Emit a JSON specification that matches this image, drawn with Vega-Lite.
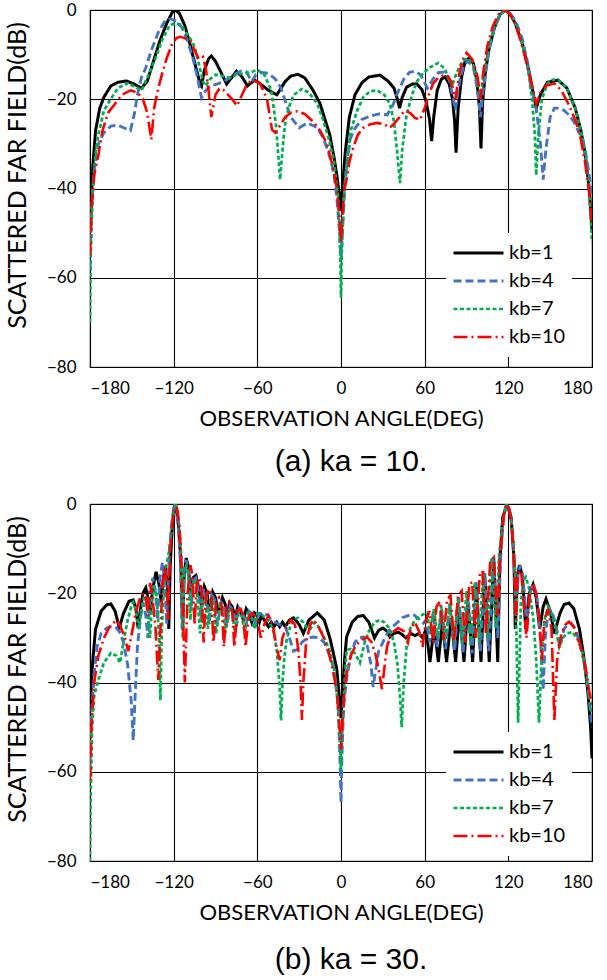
{
"$schema":"https://vega.github.io/schema/vega-lite/v6.json",
"background":"white",
"padding":{"left":4,"top":0,"right":0,"bottom":0},
"datasets":{
"a":[
{"k":"kb=1","x":-180,"y":-49},{"k":"kb=1","x":-178,"y":-35},{"k":"kb=1","x":-176,"y":-27},{"k":"kb=1","x":-173,"y":-22},{"k":"kb=1","x":-170,"y":-19.5},{"k":"kb=1","x":-165,"y":-17},{"k":"kb=1","x":-160,"y":-16.2},{"k":"kb=1","x":-154,"y":-15.9},{"k":"kb=1","x":-149,"y":-16.5},{"k":"kb=1","x":-143,"y":-17.5},{"k":"kb=1","x":-139,"y":-16},{"k":"kb=1","x":-135,"y":-12},{"k":"kb=1","x":-130,"y":-7},{"k":"kb=1","x":-125,"y":-3},{"k":"kb=1","x":-121,"y":-0.5},{"k":"kb=1","x":-119,"y":0},{"k":"kb=1","x":-116,"y":-0.7},{"k":"kb=1","x":-112,"y":-3.5},{"k":"kb=1","x":-108,"y":-8},{"k":"kb=1","x":-104,"y":-13},{"k":"kb=1","x":-101,"y":-16.5},{"k":"kb=1","x":-100,"y":-17},{"k":"kb=1","x":-98,"y":-13.5},{"k":"kb=1","x":-95,"y":-11},{"k":"kb=1","x":-93,"y":-10.3},{"k":"kb=1","x":-90,"y":-11.5},{"k":"kb=1","x":-86,"y":-14},{"k":"kb=1","x":-82,"y":-16.6},{"k":"kb=1","x":-78,"y":-15},{"k":"kb=1","x":-75,"y":-13.7},{"k":"kb=1","x":-71,"y":-15},{"k":"kb=1","x":-67,"y":-17},{"k":"kb=1","x":-62,"y":-15.7},{"k":"kb=1","x":-58,"y":-16.5},{"k":"kb=1","x":-52,"y":-18},{"k":"kb=1","x":-46,"y":-19},{"k":"kb=1","x":-40,"y":-16},{"k":"kb=1","x":-36,"y":-14.8},{"k":"kb=1","x":-31,"y":-14.4},{"k":"kb=1","x":-26,"y":-15.2},{"k":"kb=1","x":-20,"y":-18},{"k":"kb=1","x":-15,"y":-21},{"k":"kb=1","x":-12,"y":-24},{"k":"kb=1","x":-8,"y":-28},{"k":"kb=1","x":-5,"y":-33},{"k":"kb=1","x":-3,"y":-37},{"k":"kb=1","x":-1,"y":-42},{"k":"kb=1","x":0,"y":-45},{"k":"kb=1","x":1,"y":-40},{"k":"kb=1","x":3,"y":-32},{"k":"kb=1","x":6,"y":-24},{"k":"kb=1","x":10,"y":-19},{"k":"kb=1","x":15,"y":-16.3},{"k":"kb=1","x":20,"y":-15},{"k":"kb=1","x":28,"y":-14.6},{"k":"kb=1","x":34,"y":-16},{"k":"kb=1","x":38,"y":-17.5},{"k":"kb=1","x":40.5,"y":-20},{"k":"kb=1","x":42,"y":-22},{"k":"kb=1","x":44,"y":-19.5},{"k":"kb=1","x":47,"y":-17.3},{"k":"kb=1","x":51,"y":-16.6},{"k":"kb=1","x":54.5,"y":-16.6},{"k":"kb=1","x":58,"y":-17.8},{"k":"kb=1","x":61,"y":-20.5},{"k":"kb=1","x":63.5,"y":-24.5},{"k":"kb=1","x":65,"y":-29.4},{"k":"kb=1","x":66.5,"y":-24},{"k":"kb=1","x":69,"y":-18},{"k":"kb=1","x":72,"y":-15.5},{"k":"kb=1","x":74.6,"y":-15},{"k":"kb=1","x":77.5,"y":-16.5},{"k":"kb=1","x":80,"y":-20},{"k":"kb=1","x":81.5,"y":-25},{"k":"kb=1","x":82.5,"y":-32},{"k":"kb=1","x":84,"y":-22},{"k":"kb=1","x":86.5,"y":-15},{"k":"kb=1","x":89,"y":-11.5},{"k":"kb=1","x":92,"y":-10.8},{"k":"kb=1","x":95,"y":-12},{"k":"kb=1","x":97.5,"y":-16},{"k":"kb=1","x":99.3,"y":-22},{"k":"kb=1","x":100.4,"y":-31},{"k":"kb=1","x":101.5,"y":-21},{"k":"kb=1","x":103.5,"y":-14},{"k":"kb=1","x":106,"y":-9},{"k":"kb=1","x":110,"y":-4},{"k":"kb=1","x":114,"y":-1},{"k":"kb=1","x":117.6,"y":0},{"k":"kb=1","x":121,"y":-0.8},{"k":"kb=1","x":125,"y":-3},{"k":"kb=1","x":130,"y":-7.5},{"k":"kb=1","x":135,"y":-14},{"k":"kb=1","x":138,"y":-19},{"k":"kb=1","x":140,"y":-22},{"k":"kb=1","x":143,"y":-19},{"k":"kb=1","x":148,"y":-16.2},{"k":"kb=1","x":155.6,"y":-15.7},{"k":"kb=1","x":162,"y":-17.5},{"k":"kb=1","x":168,"y":-22},{"k":"kb=1","x":172,"y":-27},{"k":"kb=1","x":175,"y":-32},{"k":"kb=1","x":178,"y":-40},{"k":"kb=1","x":180,"y":-49.5},

{"k":"kb=4","x":-180,"y":-58},{"k":"kb=4","x":-179,"y":-45},{"k":"kb=4","x":-177,"y":-36},{"k":"kb=4","x":-174,"y":-30},{"k":"kb=4","x":-170,"y":-27.5},{"k":"kb=4","x":-165,"y":-26},{"k":"kb=4","x":-160,"y":-25.8},{"k":"kb=4","x":-155,"y":-26.5},{"k":"kb=4","x":-151,"y":-27},{"k":"kb=4","x":-148,"y":-23},{"k":"kb=4","x":-146,"y":-19},{"k":"kb=4","x":-143,"y":-15},{"k":"kb=4","x":-140,"y":-13},{"k":"kb=4","x":-136,"y":-9},{"k":"kb=4","x":-131,"y":-5},{"k":"kb=4","x":-126,"y":-2.3},{"k":"kb=4","x":-122,"y":-2},{"k":"kb=4","x":-118,"y":-2.5},{"k":"kb=4","x":-114,"y":-4},{"k":"kb=4","x":-110,"y":-7},{"k":"kb=4","x":-106,"y":-11},{"k":"kb=4","x":-103,"y":-15},{"k":"kb=4","x":-100,"y":-19.7},{"k":"kb=4","x":-97,"y":-18},{"k":"kb=4","x":-93,"y":-17},{"k":"kb=4","x":-88,"y":-16.5},{"k":"kb=4","x":-84,"y":-16},{"k":"kb=4","x":-81,"y":-15.5},{"k":"kb=4","x":-77,"y":-14.5},{"k":"kb=4","x":-72,"y":-13.7},{"k":"kb=4","x":-68,"y":-13.8},{"k":"kb=4","x":-64,"y":-16},{"k":"kb=4","x":-61,"y":-14.5},{"k":"kb=4","x":-57,"y":-14},{"k":"kb=4","x":-52,"y":-14.2},{"k":"kb=4","x":-47,"y":-15.5},{"k":"kb=4","x":-43,"y":-17.5},{"k":"kb=4","x":-39,"y":-21.3},{"k":"kb=4","x":-36,"y":-24},{"k":"kb=4","x":-30,"y":-26.4},{"k":"kb=4","x":-24,"y":-25.3},{"k":"kb=4","x":-17,"y":-26.4},{"k":"kb=4","x":-13,"y":-28.5},{"k":"kb=4","x":-10,"y":-31},{"k":"kb=4","x":-7,"y":-34},{"k":"kb=4","x":-5,"y":-37},{"k":"kb=4","x":-3,"y":-42},{"k":"kb=4","x":-1,"y":-50},{"k":"kb=4","x":0,"y":-56},{"k":"kb=4","x":1,"y":-50},{"k":"kb=4","x":3,"y":-38},{"k":"kb=4","x":6.5,"y":-29},{"k":"kb=4","x":10,"y":-26.5},{"k":"kb=4","x":15,"y":-24.5},{"k":"kb=4","x":21,"y":-23.8},{"k":"kb=4","x":27,"y":-23.3},{"k":"kb=4","x":33,"y":-23.5},{"k":"kb=4","x":37,"y":-21.5},{"k":"kb=4","x":40,"y":-19},{"k":"kb=4","x":45,"y":-15.5},{"k":"kb=4","x":49,"y":-14},{"k":"kb=4","x":53,"y":-13.7},{"k":"kb=4","x":57,"y":-14.5},{"k":"kb=4","x":62,"y":-17.5},{"k":"kb=4","x":66,"y":-15.5},{"k":"kb=4","x":70,"y":-14},{"k":"kb=4","x":74.6,"y":-13.9},{"k":"kb=4","x":78,"y":-16},{"k":"kb=4","x":82,"y":-22.4},{"k":"kb=4","x":85,"y":-16},{"k":"kb=4","x":88,"y":-12.5},{"k":"kb=4","x":91,"y":-11.4},{"k":"kb=4","x":95,"y":-13},{"k":"kb=4","x":98,"y":-18},{"k":"kb=4","x":100,"y":-24},{"k":"kb=4","x":102,"y":-18},{"k":"kb=4","x":106,"y":-9},{"k":"kb=4","x":110,"y":-4},{"k":"kb=4","x":114,"y":-1},{"k":"kb=4","x":118,"y":0},{"k":"kb=4","x":122,"y":-1},{"k":"kb=4","x":126,"y":-3},{"k":"kb=4","x":130,"y":-6.5},{"k":"kb=4","x":134,"y":-12},{"k":"kb=4","x":136,"y":-16.8},{"k":"kb=4","x":140,"y":-22},{"k":"kb=4","x":143,"y":-30},{"k":"kb=4","x":145,"y":-38},{"k":"kb=4","x":147,"y":-31},{"k":"kb=4","x":150,"y":-24},{"k":"kb=4","x":153,"y":-22},{"k":"kb=4","x":157,"y":-22},{"k":"kb=4","x":160,"y":-22.5},{"k":"kb=4","x":163.5,"y":-23.5},{"k":"kb=4","x":167,"y":-25},{"k":"kb=4","x":170,"y":-27},{"k":"kb=4","x":173.5,"y":-29},{"k":"kb=4","x":176,"y":-33},{"k":"kb=4","x":178,"y":-37},{"k":"kb=4","x":180,"y":-42},

{"k":"kb=7","x":-180,"y":-70},{"k":"kb=7","x":-179.5,"y":-55},{"k":"kb=7","x":-178,"y":-40},{"k":"kb=7","x":-176,"y":-32},{"k":"kb=7","x":-174,"y":-28},{"k":"kb=7","x":-170,"y":-22.5},{"k":"kb=7","x":-166,"y":-20.4},{"k":"kb=7","x":-160,"y":-17.5},{"k":"kb=7","x":-153,"y":-16.4},{"k":"kb=7","x":-148,"y":-17.2},{"k":"kb=7","x":-143,"y":-18},{"k":"kb=7","x":-138,"y":-14.5},{"k":"kb=7","x":-133,"y":-10.8},{"k":"kb=7","x":-128,"y":-6.5},{"k":"kb=7","x":-123,"y":-3.5},{"k":"kb=7","x":-119,"y":-2.9},{"k":"kb=7","x":-115,"y":-3.3},{"k":"kb=7","x":-111,"y":-5},{"k":"kb=7","x":-107,"y":-7},{"k":"kb=7","x":-104.7,"y":-8.5},{"k":"kb=7","x":-102,"y":-12},{"k":"kb=7","x":-99,"y":-16},{"k":"kb=7","x":-97,"y":-17},{"k":"kb=7","x":-94,"y":-15.5},{"k":"kb=7","x":-90,"y":-14.5},{"k":"kb=7","x":-85,"y":-14.8},{"k":"kb=7","x":-80,"y":-15.2},{"k":"kb=7","x":-75,"y":-14.5},{"k":"kb=7","x":-70,"y":-14.2},{"k":"kb=7","x":-65,"y":-14},{"k":"kb=7","x":-60,"y":-13.4},{"k":"kb=7","x":-55,"y":-14.5},{"k":"kb=7","x":-50,"y":-18},{"k":"kb=7","x":-46.6,"y":-25.8},{"k":"kb=7","x":-43.7,"y":-38},{"k":"kb=7","x":-41,"y":-28},{"k":"kb=7","x":-39.4,"y":-24},{"k":"kb=7","x":-36,"y":-20.5},{"k":"kb=7","x":-33.7,"y":-19},{"k":"kb=7","x":-28,"y":-17.7},{"k":"kb=7","x":-23,"y":-18.5},{"k":"kb=7","x":-17,"y":-21},{"k":"kb=7","x":-13,"y":-24.5},{"k":"kb=7","x":-8.6,"y":-29},{"k":"kb=7","x":-5,"y":-34},{"k":"kb=7","x":-2,"y":-42},{"k":"kb=7","x":-0.5,"y":-55},{"k":"kb=7","x":0,"y":-64.5},{"k":"kb=7","x":0.5,"y":-55},{"k":"kb=7","x":2,"y":-42},{"k":"kb=7","x":4,"y":-35},{"k":"kb=7","x":7,"y":-27},{"k":"kb=7","x":11.5,"y":-22.6},{"k":"kb=7","x":16,"y":-19.5},{"k":"kb=7","x":21,"y":-18.2},{"k":"kb=7","x":26,"y":-18},{"k":"kb=7","x":31,"y":-19},{"k":"kb=7","x":35,"y":-21},{"k":"kb=7","x":38,"y":-25},{"k":"kb=7","x":40,"y":-31},{"k":"kb=7","x":42.3,"y":-38.8},{"k":"kb=7","x":44,"y":-31},{"k":"kb=7","x":47,"y":-23.5},{"k":"kb=7","x":51,"y":-19},{"k":"kb=7","x":54.5,"y":-16},{"k":"kb=7","x":58,"y":-14.5},{"k":"kb=7","x":63,"y":-13},{"k":"kb=7","x":69.6,"y":-11.9},{"k":"kb=7","x":74,"y":-13},{"k":"kb=7","x":77,"y":-15},{"k":"kb=7","x":79.6,"y":-17},{"k":"kb=7","x":83,"y":-14},{"k":"kb=7","x":87,"y":-11.5},{"k":"kb=7","x":91,"y":-10.8},{"k":"kb=7","x":95,"y":-12.5},{"k":"kb=7","x":98,"y":-16},{"k":"kb=7","x":100,"y":-19.7},{"k":"kb=7","x":102,"y":-15},{"k":"kb=7","x":106,"y":-8},{"k":"kb=7","x":110,"y":-3.8},{"k":"kb=7","x":114,"y":-1},{"k":"kb=7","x":118,"y":0},{"k":"kb=7","x":121,"y":-0.7},{"k":"kb=7","x":125,"y":-3},{"k":"kb=7","x":130,"y":-7.5},{"k":"kb=7","x":134,"y":-13},{"k":"kb=7","x":137,"y":-20},{"k":"kb=7","x":139,"y":-28},{"k":"kb=7","x":140,"y":-37},{"k":"kb=7","x":141.5,"y":-28},{"k":"kb=7","x":144,"y":-20},{"k":"kb=7","x":148,"y":-16.5},{"k":"kb=7","x":152,"y":-15.6},{"k":"kb=7","x":156,"y":-15.7},{"k":"kb=7","x":162,"y":-17.5},{"k":"kb=7","x":168,"y":-22},{"k":"kb=7","x":172,"y":-27},{"k":"kb=7","x":175,"y":-32},{"k":"kb=7","x":178,"y":-40},{"k":"kb=7","x":180,"y":-52},

{"k":"kb=10","x":-180,"y":-55},{"k":"kb=10","x":-179,"y":-45},{"k":"kb=10","x":-177,"y":-37},{"k":"kb=10","x":-174,"y":-32.5},{"k":"kb=10","x":-171,"y":-27},{"k":"kb=10","x":-167,"y":-23},{"k":"kb=10","x":-162,"y":-21},{"k":"kb=10","x":-157,"y":-19},{"k":"kb=10","x":-151,"y":-18},{"k":"kb=10","x":-146,"y":-18.5},{"k":"kb=10","x":-142,"y":-20},{"k":"kb=10","x":-139,"y":-23},{"k":"kb=10","x":-136,"y":-29},{"k":"kb=10","x":-134,"y":-22},{"k":"kb=10","x":-131,"y":-17.5},{"k":"kb=10","x":-128,"y":-14},{"k":"kb=10","x":-125,"y":-10.8},{"k":"kb=10","x":-121,"y":-7.5},{"k":"kb=10","x":-118,"y":-6.3},{"k":"kb=10","x":-115.5,"y":-6},{"k":"kb=10","x":-112,"y":-6.3},{"k":"kb=10","x":-108,"y":-7},{"k":"kb=10","x":-105,"y":-9},{"k":"kb=10","x":-102,"y":-11},{"k":"kb=10","x":-99,"y":-10.5},{"k":"kb=10","x":-97,"y":-13},{"k":"kb=10","x":-95,"y":-18},{"k":"kb=10","x":-93,"y":-24},{"k":"kb=10","x":-90,"y":-19},{"k":"kb=10","x":-87,"y":-17.5},{"k":"kb=10","x":-84,"y":-18},{"k":"kb=10","x":-81,"y":-19},{"k":"kb=10","x":-78,"y":-20},{"k":"kb=10","x":-74.6,"y":-21.5},{"k":"kb=10","x":-71,"y":-19},{"k":"kb=10","x":-67,"y":-16.4},{"k":"kb=10","x":-63,"y":-15.7},{"k":"kb=10","x":-58,"y":-16.5},{"k":"kb=10","x":-53,"y":-20},{"k":"kb=10","x":-49.5,"y":-26.8},{"k":"kb=10","x":-47,"y":-27.5},{"k":"kb=10","x":-44,"y":-26},{"k":"kb=10","x":-40,"y":-24},{"k":"kb=10","x":-36,"y":-23},{"k":"kb=10","x":-31.5,"y":-22.7},{"k":"kb=10","x":-26,"y":-23.3},{"k":"kb=10","x":-20,"y":-25},{"k":"kb=10","x":-15,"y":-27},{"k":"kb=10","x":-10,"y":-30},{"k":"kb=10","x":-6,"y":-35},{"k":"kb=10","x":-3,"y":-40},{"k":"kb=10","x":-1,"y":-47},{"k":"kb=10","x":0,"y":-52},{"k":"kb=10","x":1,"y":-46},{"k":"kb=10","x":2.5,"y":-40},{"k":"kb=10","x":4,"y":-38},{"k":"kb=10","x":6,"y":-34},{"k":"kb=10","x":8.6,"y":-31},{"k":"kb=10","x":12,"y":-28},{"k":"kb=10","x":16,"y":-26.4},{"k":"kb=10","x":21,"y":-25.6},{"k":"kb=10","x":26,"y":-25.3},{"k":"kb=10","x":31,"y":-25.6},{"k":"kb=10","x":35,"y":-26.4},{"k":"kb=10","x":38,"y":-25.5},{"k":"kb=10","x":42,"y":-24},{"k":"kb=10","x":45,"y":-22.8},{"k":"kb=10","x":47,"y":-22.6},{"k":"kb=10","x":50,"y":-23.2},{"k":"kb=10","x":53,"y":-24.2},{"k":"kb=10","x":56.6,"y":-24.6},{"k":"kb=10","x":60,"y":-22},{"k":"kb=10","x":63,"y":-19},{"k":"kb=10","x":66,"y":-16.5},{"k":"kb=10","x":69.6,"y":-15.2},{"k":"kb=10","x":73,"y":-14.7},{"k":"kb=10","x":76,"y":-14.6},{"k":"kb=10","x":79,"y":-16},{"k":"kb=10","x":82,"y":-20},{"k":"kb=10","x":85,"y":-14},{"k":"kb=10","x":88,"y":-10.5},{"k":"kb=10","x":90,"y":-9.6},{"k":"kb=10","x":94,"y":-11},{"k":"kb=10","x":98,"y":-15},{"k":"kb=10","x":100,"y":-20},{"k":"kb=10","x":102,"y":-14},{"k":"kb=10","x":105,"y":-8},{"k":"kb=10","x":109,"y":-3.5},{"k":"kb=10","x":113,"y":-1},{"k":"kb=10","x":117,"y":0},{"k":"kb=10","x":121,"y":-0.8},{"k":"kb=10","x":125,"y":-3},{"k":"kb=10","x":129,"y":-7},{"k":"kb=10","x":132,"y":-10.5},{"k":"kb=10","x":134,"y":-13},{"k":"kb=10","x":137,"y":-17},{"k":"kb=10","x":140,"y":-21},{"k":"kb=10","x":143,"y":-18.5},{"k":"kb=10","x":147,"y":-17},{"k":"kb=10","x":153,"y":-16.4},{"k":"kb=10","x":158,"y":-18},{"k":"kb=10","x":163,"y":-21},{"k":"kb=10","x":168.5,"y":-25},{"k":"kb=10","x":172,"y":-29},{"k":"kb=10","x":175,"y":-34},{"k":"kb=10","x":178,"y":-41},{"k":"kb=10","x":180,"y":-48}
],
"b":[
{"k":"kb=1","x":-180,"y":-46},{"k":"kb=1","x":-178,"y":-35},{"k":"kb=1","x":-176,"y":-28},{"k":"kb=1","x":-172,"y":-24},{"k":"kb=1","x":-168,"y":-22.6},{"k":"kb=1","x":-165,"y":-22.4},{"k":"kb=1","x":-162,"y":-24},{"k":"kb=1","x":-159,"y":-27.8},{"k":"kb=1","x":-156,"y":-24.5},{"k":"kb=1","x":-152,"y":-21.8},{"k":"kb=1","x":-149,"y":-21.5},{"k":"kb=1","x":-147,"y":-23.5},{"k":"kb=1","x":-145.5,"y":-27.8},{"k":"kb=1","x":-144,"y":-24},{"k":"kb=1","x":-142,"y":-20},{"k":"kb=1","x":-140,"y":-18.8},{"k":"kb=1","x":-138.5,"y":-21},{"k":"kb=1","x":-137,"y":-24.4},{"k":"kb=1","x":-135,"y":-19},{"k":"kb=1","x":-132.6,"y":-15.2},{"k":"kb=1","x":-130.5,"y":-18},{"k":"kb=1","x":-129,"y":-22},{"k":"kb=1","x":-127.5,"y":-17},{"k":"kb=1","x":-126,"y":-13.9},{"k":"kb=1","x":-124.5,"y":-18},{"k":"kb=1","x":-123.5,"y":-28},{"k":"kb=1","x":-122.5,"y":-14},{"k":"kb=1","x":-121,"y":-5},{"k":"kb=1","x":-119.5,"y":-0.5},{"k":"kb=1","x":-119,"y":0},{"k":"kb=1","x":-118,"y":-1},{"k":"kb=1","x":-116.5,"y":-5},{"k":"kb=1","x":-115,"y":-12},{"k":"kb=1","x":-113.5,"y":-28},{"k":"kb=1","x":-112.5,"y":-16},{"k":"kb=1","x":-111,"y":-12.1},{"k":"kb=1","x":-109.5,"y":-14},{"k":"kb=1","x":-108,"y":-20},{"k":"kb=1","x":-106,"y":-16.5},{"k":"kb=1","x":-104,"y":-16},{"k":"kb=1","x":-102,"y":-19},{"k":"kb=1","x":-100,"y":-23},{"k":"kb=1","x":-98,"y":-18.5},{"k":"kb=1","x":-96,"y":-20},{"k":"kb=1","x":-94.5,"y":-24},{"k":"kb=1","x":-92,"y":-19.7},{"k":"kb=1","x":-90,"y":-21},{"k":"kb=1","x":-88,"y":-24.5},{"k":"kb=1","x":-85,"y":-21},{"k":"kb=1","x":-83,"y":-22.5},{"k":"kb=1","x":-81.5,"y":-25},{"k":"kb=1","x":-80,"y":-22.2},{"k":"kb=1","x":-78,"y":-23},{"k":"kb=1","x":-76,"y":-25.5},{"k":"kb=1","x":-74,"y":-23},{"k":"kb=1","x":-72,"y":-24},{"k":"kb=1","x":-70,"y":-26},{"k":"kb=1","x":-68,"y":-23.5},{"k":"kb=1","x":-66,"y":-24.5},{"k":"kb=1","x":-64,"y":-26.5},{"k":"kb=1","x":-62,"y":-24.4},{"k":"kb=1","x":-60,"y":-25},{"k":"kb=1","x":-58.5,"y":-26.5},{"k":"kb=1","x":-57,"y":-25},{"k":"kb=1","x":-54,"y":-26.5},{"k":"kb=1","x":-52,"y":-27.5},{"k":"kb=1","x":-50,"y":-26.5},{"k":"kb=1","x":-48,"y":-27.5},{"k":"kb=1","x":-46,"y":-26.5},{"k":"kb=1","x":-44,"y":-27.5},{"k":"kb=1","x":-42,"y":-26.5},{"k":"kb=1","x":-40,"y":-27.5},{"k":"kb=1","x":-37,"y":-26},{"k":"kb=1","x":-34,"y":-25.5},{"k":"kb=1","x":-30,"y":-27},{"k":"kb=1","x":-27,"y":-29},{"k":"kb=1","x":-23,"y":-26},{"k":"kb=1","x":-17,"y":-24.4},{"k":"kb=1","x":-12,"y":-26},{"k":"kb=1","x":-8,"y":-30},{"k":"kb=1","x":-6,"y":-32.7},{"k":"kb=1","x":-3,"y":-37},{"k":"kb=1","x":-1,"y":-44},{"k":"kb=1","x":0,"y":-48},{"k":"kb=1","x":1,"y":-43},{"k":"kb=1","x":2.5,"y":-35},{"k":"kb=1","x":4,"y":-29.8},{"k":"kb=1","x":8,"y":-26.5},{"k":"kb=1","x":12,"y":-25.2},{"k":"kb=1","x":16,"y":-25},{"k":"kb=1","x":20,"y":-26.5},{"k":"kb=1","x":24,"y":-30},{"k":"kb=1","x":27,"y":-28.3},{"k":"kb=1","x":30,"y":-27.8},{"k":"kb=1","x":33,"y":-28.5},{"k":"kb=1","x":35,"y":-29.8},{"k":"kb=1","x":38,"y":-29},{"k":"kb=1","x":41,"y":-28.7},{"k":"kb=1","x":44,"y":-29.3},{"k":"kb=1","x":46.6,"y":-30},{"k":"kb=1","x":50,"y":-29},{"k":"kb=1","x":53,"y":-29.5},{"k":"kb=1","x":56,"y":-29},{"k":"kb=1","x":58.5,"y":-30},{"k":"kb=1","x":61,"y":-28},{"k":"kb=1","x":63.8,"y":-35.4},{"k":"kb=1","x":66.8,"y":-27.5},{"k":"kb=1","x":69.8,"y":-35.4},{"k":"kb=1","x":72.7,"y":-26.5},{"k":"kb=1","x":75.7,"y":-35.4},{"k":"kb=1","x":79,"y":-25.5},{"k":"kb=1","x":82.2,"y":-35.4},{"k":"kb=1","x":85,"y":-24},{"k":"kb=1","x":88.2,"y":-35.4},{"k":"kb=1","x":91,"y":-22},{"k":"kb=1","x":94.4,"y":-35.4},{"k":"kb=1","x":97,"y":-18.5},{"k":"kb=1","x":100.4,"y":-35.4},{"k":"kb=1","x":103,"y":-15.5},{"k":"kb=1","x":106.3,"y":-35.4},{"k":"kb=1","x":109.5,"y":-12},{"k":"kb=1","x":112.4,"y":-35.4},{"k":"kb=1","x":114,"y":-12},{"k":"kb=1","x":116,"y":-3},{"k":"kb=1","x":119,"y":0},{"k":"kb=1","x":122,"y":-3},{"k":"kb=1","x":124,"y":-12},{"k":"kb=1","x":125,"y":-28},{"k":"kb=1","x":126.5,"y":-16},{"k":"kb=1","x":128,"y":-13.7},{"k":"kb=1","x":130,"y":-16},{"k":"kb=1","x":132.5,"y":-28},{"k":"kb=1","x":135,"y":-20},{"k":"kb=1","x":137.7,"y":-18},{"k":"kb=1","x":140,"y":-21},{"k":"kb=1","x":142.5,"y":-28},{"k":"kb=1","x":145,"y":-23},{"k":"kb=1","x":147,"y":-21.3},{"k":"kb=1","x":150,"y":-24},{"k":"kb=1","x":153,"y":-29},{"k":"kb=1","x":157,"y":-24.5},{"k":"kb=1","x":160,"y":-22.5},{"k":"kb=1","x":163.5,"y":-22.2},{"k":"kb=1","x":167,"y":-23.5},{"k":"kb=1","x":171,"y":-28},{"k":"kb=1","x":174,"y":-34},{"k":"kb=1","x":177,"y":-42},{"k":"kb=1","x":179,"y":-50},{"k":"kb=1","x":180,"y":-57},

{"k":"kb=4","x":-180,"y":-60},{"k":"kb=4","x":-179,"y":-48},{"k":"kb=4","x":-177,"y":-38},{"k":"kb=4","x":-175,"y":-32},{"k":"kb=4","x":-172,"y":-29},{"k":"kb=4","x":-168,"y":-27.8},{"k":"kb=4","x":-165,"y":-27.5},{"k":"kb=4","x":-162,"y":-27.5},{"k":"kb=4","x":-159,"y":-28.5},{"k":"kb=4","x":-156,"y":-31},{"k":"kb=4","x":-153,"y":-36},{"k":"kb=4","x":-150.5,"y":-44},{"k":"kb=4","x":-149,"y":-53},{"k":"kb=4","x":-147.5,"y":-42},{"k":"kb=4","x":-146,"y":-32},{"k":"kb=4","x":-144,"y":-26},{"k":"kb=4","x":-142,"y":-22},{"k":"kb=4","x":-140,"y":-25},{"k":"kb=4","x":-138.5,"y":-30},{"k":"kb=4","x":-137,"y":-21},{"k":"kb=4","x":-135,"y":-16.5},{"k":"kb=4","x":-133,"y":-20},{"k":"kb=4","x":-131.5,"y":-26},{"k":"kb=4","x":-130,"y":-17},{"k":"kb=4","x":-128,"y":-13},{"k":"kb=4","x":-126.5,"y":-17},{"k":"kb=4","x":-125,"y":-27},{"k":"kb=4","x":-123,"y":-10},{"k":"kb=4","x":-121,"y":-3},{"k":"kb=4","x":-119.5,"y":0},{"k":"kb=4","x":-118,"y":-1.5},{"k":"kb=4","x":-116.5,"y":-6},{"k":"kb=4","x":-115,"y":-14},{"k":"kb=4","x":-114,"y":-28},{"k":"kb=4","x":-112.5,"y":-15},{"k":"kb=4","x":-111,"y":-12.5},{"k":"kb=4","x":-109,"y":-15},{"k":"kb=4","x":-107.5,"y":-24},{"k":"kb=4","x":-106,"y":-17},{"k":"kb=4","x":-104,"y":-16.5},{"k":"kb=4","x":-102,"y":-20},{"k":"kb=4","x":-100.5,"y":-26},{"k":"kb=4","x":-98.5,"y":-19},{"k":"kb=4","x":-96.5,"y":-20.5},{"k":"kb=4","x":-94.5,"y":-27},{"k":"kb=4","x":-92.5,"y":-20.5},{"k":"kb=4","x":-90.5,"y":-21.5},{"k":"kb=4","x":-88.5,"y":-27},{"k":"kb=4","x":-86,"y":-22},{"k":"kb=4","x":-84,"y":-22.5},{"k":"kb=4","x":-82,"y":-27.5},{"k":"kb=4","x":-79.5,"y":-23},{"k":"kb=4","x":-77,"y":-24},{"k":"kb=4","x":-75,"y":-27.5},{"k":"kb=4","x":-73,"y":-23.5},{"k":"kb=4","x":-70.5,"y":-24.5},{"k":"kb=4","x":-68,"y":-27},{"k":"kb=4","x":-66,"y":-24},{"k":"kb=4","x":-63.5,"y":-24.8},{"k":"kb=4","x":-61,"y":-27},{"k":"kb=4","x":-58.5,"y":-24.5},{"k":"kb=4","x":-56,"y":-24.8},{"k":"kb=4","x":-53,"y":-24.8},{"k":"kb=4","x":-50,"y":-26},{"k":"kb=4","x":-47,"y":-26.5},{"k":"kb=4","x":-44,"y":-27},{"k":"kb=4","x":-40,"y":-27.5},{"k":"kb=4","x":-37,"y":-30},{"k":"kb=4","x":-34,"y":-33},{"k":"kb=4","x":-31,"y":-32.5},{"k":"kb=4","x":-28,"y":-31},{"k":"kb=4","x":-24,"y":-30},{"k":"kb=4","x":-20,"y":-29.8},{"k":"kb=4","x":-16,"y":-30},{"k":"kb=4","x":-12,"y":-31},{"k":"kb=4","x":-8,"y":-34},{"k":"kb=4","x":-5,"y":-37},{"k":"kb=4","x":-2,"y":-45},{"k":"kb=4","x":-0.5,"y":-60},{"k":"kb=4","x":0,"y":-67},{"k":"kb=4","x":0.5,"y":-58},{"k":"kb=4","x":2,"y":-45},{"k":"kb=4","x":4,"y":-39},{"k":"kb=4","x":7,"y":-34},{"k":"kb=4","x":10,"y":-31},{"k":"kb=4","x":13,"y":-30},{"k":"kb=4","x":16,"y":-29.8},{"k":"kb=4","x":19,"y":-32},{"k":"kb=4","x":21.5,"y":-36},{"k":"kb=4","x":23,"y":-41},{"k":"kb=4","x":25,"y":-37},{"k":"kb=4","x":27,"y":-33},{"k":"kb=4","x":30,"y":-31},{"k":"kb=4","x":34,"y":-28.5},{"k":"kb=4","x":37,"y":-27.5},{"k":"kb=4","x":40,"y":-26.7},{"k":"kb=4","x":44,"y":-25.5},{"k":"kb=4","x":48,"y":-25},{"k":"kb=4","x":52,"y":-24.8},{"k":"kb=4","x":55,"y":-25.5},{"k":"kb=4","x":59,"y":-26.7},{"k":"kb=4","x":61,"y":-26},{"k":"kb=4","x":63.5,"y":-31},{"k":"kb=4","x":66,"y":-24.5},{"k":"kb=4","x":69,"y":-32},{"k":"kb=4","x":72,"y":-23.5},{"k":"kb=4","x":75,"y":-32.5},{"k":"kb=4","x":78,"y":-22.5},{"k":"kb=4","x":81.5,"y":-33},{"k":"kb=4","x":84.5,"y":-21},{"k":"kb=4","x":87.5,"y":-33.5},{"k":"kb=4","x":91,"y":-19.5},{"k":"kb=4","x":94,"y":-33.5},{"k":"kb=4","x":97,"y":-17.5},{"k":"kb=4","x":100,"y":-33},{"k":"kb=4","x":103,"y":-15.5},{"k":"kb=4","x":106,"y":-33},{"k":"kb=4","x":109.5,"y":-12},{"k":"kb=4","x":112.5,"y":-30},{"k":"kb=4","x":114.5,"y":-12},{"k":"kb=4","x":116.5,"y":-3},{"k":"kb=4","x":119,"y":0},{"k":"kb=4","x":121.5,"y":-2},{"k":"kb=4","x":123.5,"y":-8},{"k":"kb=4","x":125.5,"y":-25},{"k":"kb=4","x":127,"y":-16},{"k":"kb=4","x":128.5,"y":-13.8},{"k":"kb=4","x":130.5,"y":-16},{"k":"kb=4","x":133,"y":-27},{"k":"kb=4","x":135.5,"y":-20},{"k":"kb=4","x":138,"y":-17.8},{"k":"kb=4","x":140.5,"y":-21},{"k":"kb=4","x":143,"y":-30},{"k":"kb=4","x":145,"y":-41.7},{"k":"kb=4","x":146.5,"y":-30},{"k":"kb=4","x":148.5,"y":-24},{"k":"kb=4","x":151,"y":-23.8},{"k":"kb=4","x":154,"y":-27},{"k":"kb=4","x":157,"y":-32},{"k":"kb=4","x":160,"y":-28},{"k":"kb=4","x":163,"y":-26.8},{"k":"kb=4","x":165,"y":-26.7},{"k":"kb=4","x":168,"y":-28},{"k":"kb=4","x":171,"y":-31},{"k":"kb=4","x":174,"y":-35},{"k":"kb=4","x":177,"y":-41},{"k":"kb=4","x":180,"y":-50},

{"k":"kb=7","x":-180,"y":-80},{"k":"kb=7","x":-179.5,"y":-65},{"k":"kb=7","x":-178.5,"y":-50},{"k":"kb=7","x":-177,"y":-43},{"k":"kb=7","x":-174,"y":-39.4},{"k":"kb=7","x":-170,"y":-35.5},{"k":"kb=7","x":-165,"y":-33.4},{"k":"kb=7","x":-161,"y":-34},{"k":"kb=7","x":-158.5,"y":-35.6},{"k":"kb=7","x":-156,"y":-31},{"k":"kb=7","x":-153,"y":-26},{"k":"kb=7","x":-150,"y":-22.5},{"k":"kb=7","x":-149,"y":-22},{"k":"kb=7","x":-147,"y":-24},{"k":"kb=7","x":-145,"y":-28},{"k":"kb=7","x":-143,"y":-23.5},{"k":"kb=7","x":-141,"y":-20.5},{"k":"kb=7","x":-139.5,"y":-21},{"k":"kb=7","x":-138,"y":-26},{"k":"kb=7","x":-137,"y":-30},{"k":"kb=7","x":-135.5,"y":-22},{"k":"kb=7","x":-134,"y":-18},{"k":"kb=7","x":-132,"y":-21},{"k":"kb=7","x":-130.5,"y":-30},{"k":"kb=7","x":-129.5,"y":-44},{"k":"kb=7","x":-128.5,"y":-28},{"k":"kb=7","x":-126.5,"y":-16},{"k":"kb=7","x":-125,"y":-13.5},{"k":"kb=7","x":-123,"y":-10},{"k":"kb=7","x":-121,"y":-4},{"k":"kb=7","x":-119.5,"y":-0.5},{"k":"kb=7","x":-118.5,"y":0},{"k":"kb=7","x":-117.5,"y":-1.5},{"k":"kb=7","x":-116,"y":-5},{"k":"kb=7","x":-114.5,"y":-12},{"k":"kb=7","x":-113.5,"y":-30},{"k":"kb=7","x":-112.5,"y":-16},{"k":"kb=7","x":-111,"y":-13.5},{"k":"kb=7","x":-109.5,"y":-16},{"k":"kb=7","x":-108,"y":-26},{"k":"kb=7","x":-106.5,"y":-18},{"k":"kb=7","x":-104.5,"y":-17},{"k":"kb=7","x":-103,"y":-21},{"k":"kb=7","x":-101,"y":-29},{"k":"kb=7","x":-99.5,"y":-20},{"k":"kb=7","x":-97.5,"y":-20.5},{"k":"kb=7","x":-95.5,"y":-28},{"k":"kb=7","x":-93.5,"y":-21.5},{"k":"kb=7","x":-91.5,"y":-22},{"k":"kb=7","x":-89.5,"y":-29},{"k":"kb=7","x":-87,"y":-22.5},{"k":"kb=7","x":-85,"y":-23},{"k":"kb=7","x":-83,"y":-29},{"k":"kb=7","x":-80.5,"y":-23.5},{"k":"kb=7","x":-78,"y":-24},{"k":"kb=7","x":-76,"y":-29.5},{"k":"kb=7","x":-74,"y":-24},{"k":"kb=7","x":-71.5,"y":-24.5},{"k":"kb=7","x":-69,"y":-29},{"k":"kb=7","x":-67,"y":-24.5},{"k":"kb=7","x":-64.5,"y":-25},{"k":"kb=7","x":-62,"y":-28},{"k":"kb=7","x":-60,"y":-24.5},{"k":"kb=7","x":-57,"y":-24.8},{"k":"kb=7","x":-54,"y":-25.5},{"k":"kb=7","x":-51,"y":-26.5},{"k":"kb=7","x":-48,"y":-29},{"k":"kb=7","x":-46,"y":-33},{"k":"kb=7","x":-44,"y":-41},{"k":"kb=7","x":-43,"y":-48.5},{"k":"kb=7","x":-42,"y":-40},{"k":"kb=7","x":-40.5,"y":-34},{"k":"kb=7","x":-39,"y":-30.5},{"k":"kb=7","x":-36,"y":-27},{"k":"kb=7","x":-33,"y":-25.8},{"k":"kb=7","x":-31,"y":-25.5},{"k":"kb=7","x":-27,"y":-26.5},{"k":"kb=7","x":-24,"y":-28},{"k":"kb=7","x":-22,"y":-28},{"k":"kb=7","x":-19,"y":-26.5},{"k":"kb=7","x":-16,"y":-27.5},{"k":"kb=7","x":-12,"y":-30},{"k":"kb=7","x":-8,"y":-33},{"k":"kb=7","x":-5,"y":-37},{"k":"kb=7","x":-2.5,"y":-44},{"k":"kb=7","x":-1,"y":-52},{"k":"kb=7","x":0,"y":-60},{"k":"kb=7","x":1,"y":-50},{"k":"kb=7","x":2.5,"y":-40},{"k":"kb=7","x":4,"y":-32.7},{"k":"kb=7","x":7,"y":-32.5},{"k":"kb=7","x":10,"y":-33.5},{"k":"kb=7","x":13.6,"y":-35.6},{"k":"kb=7","x":17,"y":-31},{"k":"kb=7","x":20,"y":-28.5},{"k":"kb=7","x":24,"y":-26.5},{"k":"kb=7","x":28,"y":-26},{"k":"kb=7","x":31,"y":-26.5},{"k":"kb=7","x":35,"y":-28},{"k":"kb=7","x":38,"y":-31},{"k":"kb=7","x":40.5,"y":-36},{"k":"kb=7","x":42.5,"y":-44},{"k":"kb=7","x":43.5,"y":-50},{"k":"kb=7","x":45,"y":-40},{"k":"kb=7","x":47,"y":-32},{"k":"kb=7","x":49.5,"y":-28},{"k":"kb=7","x":53,"y":-26},{"k":"kb=7","x":57,"y":-25},{"k":"kb=7","x":61.6,"y":-24.4},{"k":"kb=7","x":64,"y":-29},{"k":"kb=7","x":66.5,"y":-23.5},{"k":"kb=7","x":69.5,"y":-30},{"k":"kb=7","x":72,"y":-22.8},{"k":"kb=7","x":75,"y":-30.5},{"k":"kb=7","x":78,"y":-22.2},{"k":"kb=7","x":81,"y":-31},{"k":"kb=7","x":84,"y":-21},{"k":"kb=7","x":87,"y":-31.5},{"k":"kb=7","x":90,"y":-19.5},{"k":"kb=7","x":93,"y":-31.5},{"k":"kb=7","x":96,"y":-17.5},{"k":"kb=7","x":99,"y":-31},{"k":"kb=7","x":102,"y":-15},{"k":"kb=7","x":105,"y":-30},{"k":"kb=7","x":108,"y":-12},{"k":"kb=7","x":111,"y":-28},{"k":"kb=7","x":113.5,"y":-11},{"k":"kb=7","x":116.5,"y":-3},{"k":"kb=7","x":118.5,"y":0},{"k":"kb=7","x":121,"y":-1.5},{"k":"kb=7","x":123,"y":-6},{"k":"kb=7","x":125,"y":-16},{"k":"kb=7","x":127,"y":-49},{"k":"kb=7","x":129,"y":-22},{"k":"kb=7","x":131,"y":-17},{"k":"kb=7","x":132.6,"y":-16.4},{"k":"kb=7","x":135,"y":-19},{"k":"kb=7","x":138,"y":-26},{"k":"kb=7","x":140,"y":-35},{"k":"kb=7","x":142,"y":-49},{"k":"kb=7","x":144,"y":-33},{"k":"kb=7","x":146,"y":-26},{"k":"kb=7","x":148.5,"y":-23},{"k":"kb=7","x":151,"y":-24.5},{"k":"kb=7","x":154,"y":-28},{"k":"kb=7","x":156.5,"y":-32},{"k":"kb=7","x":159,"y":-30},{"k":"kb=7","x":162,"y":-29},{"k":"kb=7","x":166,"y":-28.7},{"k":"kb=7","x":170,"y":-30.5},{"k":"kb=7","x":173,"y":-33},{"k":"kb=7","x":176,"y":-38},{"k":"kb=7","x":178,"y":-43},{"k":"kb=7","x":180,"y":-47},

{"k":"kb=10","x":-180,"y":-62},{"k":"kb=10","x":-179,"y":-50},{"k":"kb=10","x":-177,"y":-40},{"k":"kb=10","x":-174,"y":-34},{"k":"kb=10","x":-170,"y":-30},{"k":"kb=10","x":-166,"y":-27.5},{"k":"kb=10","x":-161,"y":-26},{"k":"kb=10","x":-158,"y":-27.5},{"k":"kb=10","x":-155,"y":-30},{"k":"kb=10","x":-152.6,"y":-33},{"k":"kb=10","x":-150,"y":-29},{"k":"kb=10","x":-147,"y":-24},{"k":"kb=10","x":-144,"y":-21},{"k":"kb=10","x":-142,"y":-20},{"k":"kb=10","x":-140,"y":-21},{"k":"kb=10","x":-138.5,"y":-25},{"k":"kb=10","x":-137,"y":-17.7},{"k":"kb=10","x":-135.5,"y":-20},{"k":"kb=10","x":-133,"y":-28},{"k":"kb=10","x":-131,"y":-39.4},{"k":"kb=10","x":-129.5,"y":-28},{"k":"kb=10","x":-128,"y":-18},{"k":"kb=10","x":-126.5,"y":-14},{"k":"kb=10","x":-125,"y":-17},{"k":"kb=10","x":-124,"y":-26},{"k":"kb=10","x":-122.5,"y":-10},{"k":"kb=10","x":-120.5,"y":-3},{"k":"kb=10","x":-119,"y":-0.8},{"k":"kb=10","x":-118,"y":-0.5},{"k":"kb=10","x":-117,"y":-2},{"k":"kb=10","x":-115.5,"y":-7},{"k":"kb=10","x":-114,"y":-16},{"k":"kb=10","x":-112,"y":-40},{"k":"kb=10","x":-110,"y":-20},{"k":"kb=10","x":-108,"y":-13.7},{"k":"kb=10","x":-106.5,"y":-16},{"k":"kb=10","x":-105,"y":-27},{"k":"kb=10","x":-103.5,"y":-18},{"k":"kb=10","x":-101.5,"y":-16.5},{"k":"kb=10","x":-100,"y":-19},{"k":"kb=10","x":-98.5,"y":-31},{"k":"kb=10","x":-97,"y":-21},{"k":"kb=10","x":-95,"y":-19},{"k":"kb=10","x":-93,"y":-21},{"k":"kb=10","x":-91.5,"y":-31},{"k":"kb=10","x":-89.5,"y":-22},{"k":"kb=10","x":-87.5,"y":-21},{"k":"kb=10","x":-85.5,"y":-23},{"k":"kb=10","x":-84,"y":-32},{"k":"kb=10","x":-82,"y":-23},{"k":"kb=10","x":-80,"y":-22},{"k":"kb=10","x":-78,"y":-24},{"k":"kb=10","x":-76.5,"y":-32},{"k":"kb=10","x":-74.5,"y":-24},{"k":"kb=10","x":-72,"y":-23.5},{"k":"kb=10","x":-70,"y":-25},{"k":"kb=10","x":-68.5,"y":-32},{"k":"kb=10","x":-66,"y":-25},{"k":"kb=10","x":-63,"y":-24.5},{"k":"kb=10","x":-60,"y":-26},{"k":"kb=10","x":-57.5,"y":-30},{"k":"kb=10","x":-55,"y":-27},{"k":"kb=10","x":-52,"y":-25},{"k":"kb=10","x":-49,"y":-27},{"k":"kb=10","x":-46.5,"y":-31.6},{"k":"kb=10","x":-44,"y":-35},{"k":"kb=10","x":-42,"y":-30},{"k":"kb=10","x":-39,"y":-27.5},{"k":"kb=10","x":-36,"y":-26},{"k":"kb=10","x":-33,"y":-27},{"k":"kb=10","x":-30.5,"y":-33},{"k":"kb=10","x":-29,"y":-40},{"k":"kb=10","x":-28,"y":-48.4},{"k":"kb=10","x":-27,"y":-40},{"k":"kb=10","x":-25,"y":-31},{"k":"kb=10","x":-22,"y":-27},{"k":"kb=10","x":-20,"y":-26},{"k":"kb=10","x":-17,"y":-27},{"k":"kb=10","x":-13,"y":-29.5},{"k":"kb=10","x":-9,"y":-33},{"k":"kb=10","x":-6,"y":-37},{"k":"kb=10","x":-3,"y":-42},{"k":"kb=10","x":-1,"y":-50},{"k":"kb=10","x":0,"y":-55},{"k":"kb=10","x":1,"y":-49},{"k":"kb=10","x":2.5,"y":-42},{"k":"kb=10","x":4,"y":-38},{"k":"kb=10","x":7,"y":-34},{"k":"kb=10","x":10,"y":-32},{"k":"kb=10","x":14,"y":-30.5},{"k":"kb=10","x":18.6,"y":-29.8},{"k":"kb=10","x":22,"y":-31},{"k":"kb=10","x":25,"y":-34},{"k":"kb=10","x":27.5,"y":-38},{"k":"kb=10","x":29.4,"y":-41.5},{"k":"kb=10","x":31,"y":-37},{"k":"kb=10","x":33,"y":-32},{"k":"kb=10","x":36,"y":-29},{"k":"kb=10","x":41,"y":-27.8},{"k":"kb=10","x":45,"y":-28.5},{"k":"kb=10","x":48,"y":-31},{"k":"kb=10","x":50,"y":-28},{"k":"kb=10","x":53,"y":-26.5},{"k":"kb=10","x":56,"y":-28.5},{"k":"kb=10","x":58.5,"y":-32},{"k":"kb=10","x":61,"y":-26},{"k":"kb=10","x":63.5,"y":-24},{"k":"kb=10","x":66,"y":-31},{"k":"kb=10","x":68.5,"y":-23},{"k":"kb=10","x":71,"y":-21.8},{"k":"kb=10","x":73.5,"y":-30.5},{"k":"kb=10","x":76,"y":-21.5},{"k":"kb=10","x":78.5,"y":-20.5},{"k":"kb=10","x":81,"y":-30.5},{"k":"kb=10","x":84,"y":-20.5},{"k":"kb=10","x":86.5,"y":-19.5},{"k":"kb=10","x":89,"y":-31},{"k":"kb=10","x":92,"y":-18},{"k":"kb=10","x":94,"y":-17.5},{"k":"kb=10","x":96.5,"y":-30},{"k":"kb=10","x":99.5,"y":-16},{"k":"kb=10","x":101.5,"y":-15},{"k":"kb=10","x":104,"y":-29},{"k":"kb=10","x":107,"y":-13},{"k":"kb=10","x":109.5,"y":-12},{"k":"kb=10","x":112,"y":-25},{"k":"kb=10","x":114.5,"y":-10},{"k":"kb=10","x":117,"y":-2},{"k":"kb=10","x":118.5,"y":0},{"k":"kb=10","x":120.5,"y":-1},{"k":"kb=10","x":122.5,"y":-5},{"k":"kb=10","x":124.5,"y":-15},{"k":"kb=10","x":125.5,"y":-26},{"k":"kb=10","x":126.5,"y":-17},{"k":"kb=10","x":127.7,"y":-14.8},{"k":"kb=10","x":129.5,"y":-16},{"k":"kb=10","x":131,"y":-22},{"k":"kb=10","x":133,"y":-30},{"k":"kb=10","x":135.5,"y":-20},{"k":"kb=10","x":137.7,"y":-18},{"k":"kb=10","x":140,"y":-20},{"k":"kb=10","x":142,"y":-25},{"k":"kb=10","x":144,"y":-35},{"k":"kb=10","x":146,"y":-26},{"k":"kb=10","x":148.5,"y":-23.5},{"k":"kb=10","x":151,"y":-28},{"k":"kb=10","x":153,"y":-48.4},{"k":"kb=10","x":155,"y":-35},{"k":"kb=10","x":158,"y":-29},{"k":"kb=10","x":161,"y":-27},{"k":"kb=10","x":163.5,"y":-26.4},{"k":"kb=10","x":167,"y":-27.5},{"k":"kb=10","x":171,"y":-31},{"k":"kb=10","x":175,"y":-36},{"k":"kb=10","x":178,"y":-42},{"k":"kb=10","x":180,"y":-45}
]
},
"spacing":16,
"vconcat":[
{
"width":502,"height":357,
"data":{"name":"a"},
"title":{"text":"(a) ka = 10.","orient":"bottom","offset":18,"dx":10},
"mark":{"type":"line","clip":true},
"encoding":{
"x":{"field":"x","type":"quantitative","scale":{"domain":[-180,180],"nice":false},"axis":{"values":[-180,-120,-60,0,60,120,180],"title":"OBSERVATION ANGLE(DEG)"}},
"y":{"field":"y","type":"quantitative","scale":{"domain":[-80,0],"nice":false},"axis":{"values":[-80,-60,-40,-20,0],"title":"SCATTERED FAR FIELD(dB)","titleY":165}},
"color":{"field":"k","type":"nominal","scale":{"domain":["kb=1","kb=4","kb=7","kb=10"],"range":["#000000","#4472C4","#00B050","#FF0000"]},"legend":{"orient":"none","legendX":356,"legendY":223}},
"strokeDash":{"field":"k","type":"nominal","scale":{"domain":["kb=1","kb=4","kb=7","kb=10"],"range":[[1,0],[8,4],[4,2.5],[14,4,2,4]]},"legend":{"orient":"none","legendX":356,"legendY":223}},
"strokeWidth":{"field":"k","type":"nominal","scale":{"domain":["kb=1","kb=4","kb=7","kb=10"],"range":[3,2.6,2.6,2.6]},"legend":null}
}
},
{
"width":502,"height":357,
"data":{"name":"b"},
"title":{"text":"(b) ka = 30.","orient":"bottom","offset":22,"dx":10},
"mark":{"type":"line","clip":true},
"encoding":{
"x":{"field":"x","type":"quantitative","scale":{"domain":[-180,180],"nice":false},"axis":{"values":[-180,-120,-60,0,60,120,180],"title":"OBSERVATION ANGLE(DEG)"}},
"y":{"field":"y","type":"quantitative","scale":{"domain":[-80,0],"nice":false},"axis":{"values":[-80,-60,-40,-20,0],"title":"SCATTERED FAR FIELD(dB)","titleY":165}},
"color":{"field":"k","type":"nominal","scale":{"domain":["kb=1","kb=4","kb=7","kb=10"],"range":["#000000","#4472C4","#00B050","#FF0000"]},"legend":{"orient":"none","legendX":356,"legendY":228}},
"strokeDash":{"field":"k","type":"nominal","scale":{"domain":["kb=1","kb=4","kb=7","kb=10"],"range":[[1,0],[8,4],[4,2.5],[14,4,2,4]]},"legend":{"orient":"none","legendX":356,"legendY":228}},
"strokeWidth":{"field":"k","type":"nominal","scale":{"domain":["kb=1","kb=4","kb=7","kb=10"],"range":[3,2.6,2.6,2.6]},"legend":null}
}
}
],
"resolve":{"scale":{"color":"independent","strokeDash":"independent","strokeWidth":"independent"},"legend":{"color":"independent","strokeDash":"independent"}},
"config":{
"font":"Lato",
"view":{"stroke":"#404040","strokeWidth":1.2},
"axis":{"grid":true,"gridColor":"#000000","gridWidth":1.1,"gridOpacity":1,"domain":false,"ticks":false,"labelFont":"Lato","labelFontSize":17,"labelColor":"#000000","titleFont":"Lato","titleFontWeight":"normal","titleColor":"#000000"},
"axisX":{"labelPadding":13,"titleFontSize":22,"titlePadding":12},
"axisY":{"labelPadding":14,"titleFontSize":25,"titlePadding":16},
"legend":{"title":null,"fillColor":"white","padding":6,"labelFont":"Lato","labelFontSize":20,"labelColor":"#000000","symbolSize":2500,"symbolStrokeWidth":2.6,"symbolType":"stroke","clipHeight":28,"rowPadding":0,"labelOffset":4},
"title":{"font":"Liberation Sans","fontSize":30,"fontWeight":"normal","color":"#000000","anchor":"middle"}
}
}
